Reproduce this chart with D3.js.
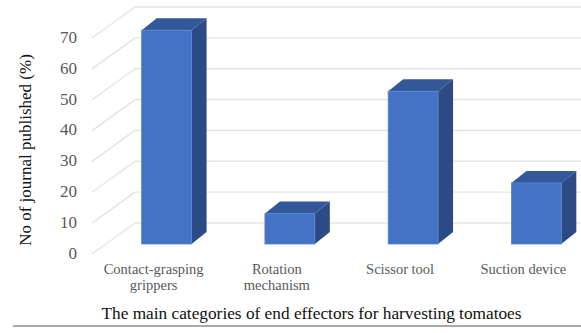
<!DOCTYPE html>
<html>
<head>
<meta charset="utf-8">
<script src="https://cdn.jsdelivr.net/npm/d3@7"></script>
<style>
  html, body { margin: 0; padding: 0; background: #fff; }
  svg { display: block; }
  svg text { font-family: "Liberation Serif", "Times New Roman", Tinos, "DejaVu Serif", serif; }
</style>
</head>
<body>
<div id="chart"></div>
<script>
// Share of published journal papers per end-effector category
const categories = ["Contact-grasping grippers", "Rotation mechanism", "Scissor tool", "Suction device"];
const categoryLines = [["Contact-grasping", "grippers"], ["Rotation", "mechanism"], ["Scissor tool"], ["Suction device"]];
const values = [70, 10, 50, 20];
const yTicks = [0, 10, 20, 30, 40, 50, 60, 70];
const yTitle = "No of journal published (%)";
const xTitle = "The main categories of end effectors for harvesting tomatoes";

const W = 581, H = 333;
const svg = d3.select("#chart").append("svg").attr("width", W).attr("height", H);

// Oblique 3D frame: depth offsets (dx, dy) and slight height shrink (k) per plane
const wallBack = { dx: 43, dy: -31, k: 1 };
const barFront = { dx: 13, dy: -10, k: 0.99 };
const barBack  = { dx: 28, dy: -22, k: 0.99 };

const x = d3.scaleBand().domain(d3.range(categories.length))
  .range([92, 585]).paddingInner(0.595).paddingOuter(0.2975);
const y = d3.scaleLinear().domain([0, 70]).range([254, 38]);
// vertical position of a value on a given depth plane
const yAt = (v, p) => y(0) + (y(v) - y(0)) * p.k + p.dy;

const gridColor = "#e4e4e4";

// Gridlines: left wall diagonals and back wall horizontals
const grid = svg.append("g").attr("stroke", gridColor).attr("stroke-width", 1.4).attr("fill", "none");
yTicks.forEach(t => {
  const x0 = x.range()[0];
  grid.append("line")
    .attr("x1", x0).attr("y1", y(t))
    .attr("x2", x0 + wallBack.dx).attr("y2", yAt(t, wallBack));
  grid.append("line")
    .attr("x1", x0 + wallBack.dx).attr("y1", yAt(t, wallBack))
    .attr("x2", W + 10).attr("y2", yAt(t, wallBack));
});

// Tick labels
svg.append("g").selectAll("text").data(yTicks).join("text")
  .attr("x", 77).attr("y", d => y(d) + 1)
  .attr("text-anchor", "end").attr("dominant-baseline", "middle")
  .attr("font-size", 17).attr("fill", "#595959")
  .text(d => d);

// 3D columns
const bars = svg.append("g");
values.forEach((v, i) => {
  const xl = x(i), xr = x(i) + x.bandwidth();
  const fL = xl + barFront.dx, fR = xr + barFront.dx;
  const fT = yAt(v, barFront), fB = yAt(0, barFront);
  const bT = yAt(v, barBack), bB = yAt(0, barBack);
  const ddx = barBack.dx - barFront.dx;
  // side face
  bars.append("path")
    .attr("d", `M${fR},${fT}L${fR + ddx},${bT}L${fR + ddx},${bB}L${fR},${fB}Z`)
    .attr("fill", "#2c4b85");
  // top face
  bars.append("path")
    .attr("d", `M${fL},${fT}L${fL + ddx},${bT}L${fR + ddx},${bT}L${fR},${fT}Z`)
    .attr("fill", "#33589a");
  // front face
  bars.append("rect")
    .attr("x", fL).attr("y", fT).attr("width", fR - fL).attr("height", fB - fT)
    .attr("fill", "#4472c4").attr("stroke", "#5a84cc").attr("stroke-width", 0.8);
});

// Category labels
const catG = svg.append("g")
  .attr("font-size", 14.5).attr("fill", "#595959")
  .attr("text-anchor", "middle");
categoryLines.forEach((lines, i) => {
  const cx = x(i) + x.bandwidth() / 2;
  const t = catG.append("text").attr("x", cx).attr("y", 274);
  lines.forEach((ln, j) => {
    t.append("tspan").attr("x", cx).attr("dy", j === 0 ? 0 : 15.5).text(ln);
  });
});

// Axis titles
svg.append("text")
  .attr("transform", "translate(31,150) rotate(-90)")
  .attr("text-anchor", "middle")
  .attr("font-size", 17).attr("fill", "#111")
  .text(yTitle);

svg.append("text")
  .attr("x", 311.5).attr("y", 319)
  .attr("text-anchor", "middle")
  .attr("font-size", 17.3).attr("fill", "#111")
  .text(xTitle);

// Rule beneath the chart
svg.append("line")
  .attr("x1", 13).attr("x2", W).attr("y1", 326).attr("y2", 326)
  .attr("stroke", "#8c8c8c").attr("stroke-width", 1.6);
</script>
</body>
</html>
